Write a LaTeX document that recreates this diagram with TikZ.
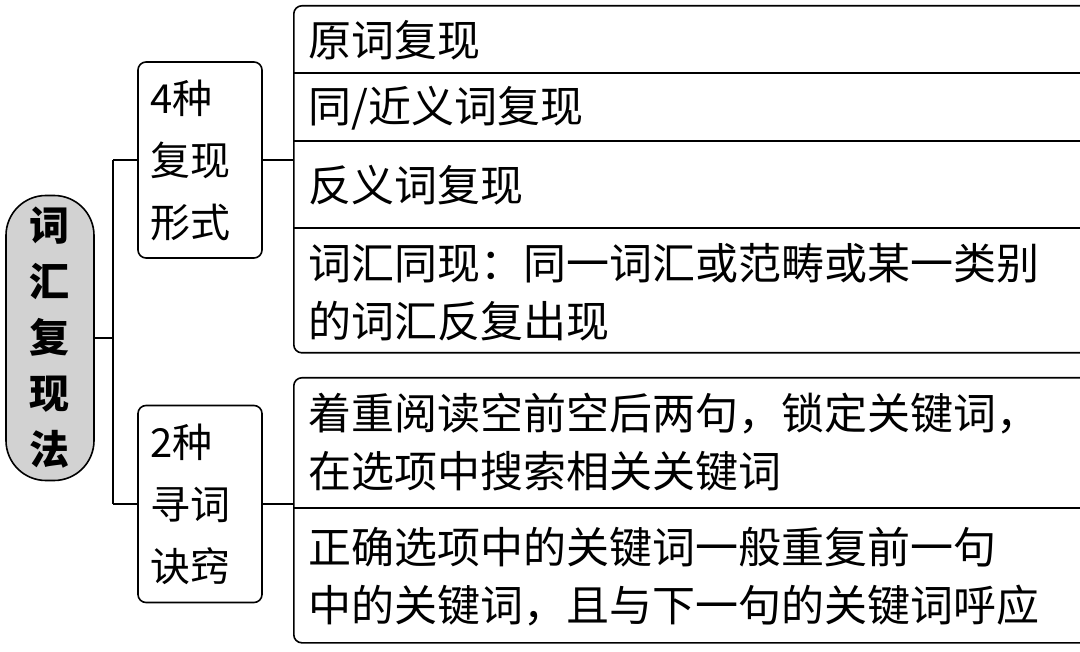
\documentclass[tikz,border=0pt]{standalone}
\usepackage{fontspec}
\setmainfont{Noto Sans CJK SC}
\usetikzlibrary{positioning}
\begin{document}
\begin{tikzpicture}[
  x=1pt, y=-1pt,
  line width=1.6pt,
  font=\fontsize{43}{58}\selectfont,
  mybox/.style={draw, rounded corners=8pt, inner sep=0pt},
  mytxt/.style={anchor=west, inner sep=0pt, align=left}
]
\useasboundingbox (0,0) rectangle (1080,652);

% root
\node[mybox, fill=gray!35, rounded corners=40pt, minimum width=88pt, minimum height=285pt,
  align=center, font=\fontsize{40}{56}\selectfont\bfseries] (root) at (50,338) {词\\汇\\复\\现\\法};

% middle boxes
\node[mybox, minimum width=124pt, minimum height=196pt, align=left, text width=100pt,
  font=\fontsize{40}{62}\selectfont] (form) at (200,160) {4种\\复现\\形式};
\node[mybox, minimum width=124pt, minimum height=197pt, align=left, text width=100pt,
  font=\fontsize{40}{62}\selectfont] (tips) at (200,504) {2种\\寻词\\诀窍};

% right groups
\node[mybox, minimum width=800pt, minimum height=347pt, anchor=north west] (grpa) at (293,5) {};
\node[mybox, minimum width=800pt, minimum height=265pt, anchor=north west] (grpb) at (293,377) {};
\draw (grpa.west |- 0,73) -- ++(800,0);
\draw (grpa.west |- 0,141) -- ++(800,0);
\draw (grpa.west |- 0,228) -- ++(800,0);
\draw (grpb.west |- 0,508) -- ++(800,0);

% texts
\node[mytxt] (t1) at (308,40) {原词复现};
\node[mytxt] (t2) at (308,108) {同/近义词复现};
\node[mytxt] (t3) at (308,185) {反义词复现};
\node[mytxt] (t4) at (308,292) {词汇同现：同一词汇或范畴或某一类别\\的词汇反复出现};
\node[mytxt] (t5) at (308,442) {着重阅读空前空后两句，锁定关键词，\\在选项中搜索相关关键词};
\node[mytxt] (t6) at (308,577) {正确选项中的关键词一般重复前一句\\中的关键词，且与下一句的关键词呼应};

% connectors
\coordinate (fork) at (113,338);
\draw (root.east) -- (fork);
\draw (fork |- form.west) -- (fork |- tips.west);
\draw (fork |- form.west) -- (form.west);
\draw (fork |- tips.west) -- (tips.west);
\draw (form.east) -- (grpa.west |- form.east);
\draw (tips.east) -- (grpb.west |- tips.east);
\end{tikzpicture}
\end{document}
